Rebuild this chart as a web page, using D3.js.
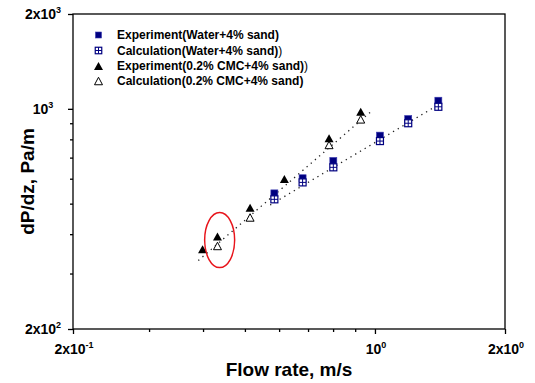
<!DOCTYPE html>
<html><head><meta charset="utf-8">
<script src="https://cdn.jsdelivr.net/npm/d3@7"></script>
<style>
body{margin:0;background:#fff;}
text{font-family:"Liberation Sans",Arial,sans-serif;font-weight:bold;}
</style></head>
<body><svg id="chart" width="535" height="383"></svg>
<script>
// Data
const waterVel     = [0.585, 0.680, 0.801, 1.027, 1.194, 1.402];
const waterExp     = [539, 602, 683, 822, 928, 1061];
const waterCalc    = [516, 584, 652, 790, 900, 1015];
const cmcExpVel    = [0.399, 0.432, 0.514, 0.617, 0.783, 0.927];
const cmcExp       = [358, 393, 485, 599, 806, 979];
const cmcCalcVel   = [0.432, 0.514, 0.783, 0.927];
const cmcCalc      = [367, 452, 768, 926];
const waterFitX    = [0.572, 1.437];
const waterFitY    = [495, 1051];
const cmcFitX      = [0.390, 0.975];
const cmcFitY      = [330, 975];
const xMajor = [0.2, 1, 2];
const xMajorLabels = [["2x10","-1"],["10","0"],["2x10","0"]];
const xMinor = [0.3,0.4,0.5,0.6,0.7,0.8,0.9];
const yMajor = [200, 1000, 2000];
const yMajorLabels = [["2x10","2"],["10","3"],["2x10","3"]];
const yMinor = [300,400,500,600,700,800,900];
const legendLabels = [
  ["Experiment(Water+4% sand)", ""],
  ["Calculation(Water+4% sand)", ")"],
  ["Experiment(0.2% CMC+4% sand)", ")"],
  ["Calculation(0.2% CMC+4% sand)", ""]
];
const xTitle = "Flow rate, m/s";
const yTitle = "dP/dz, Pa/m";

const svg = d3.select("#chart");
const L = 73, R = 505, T = 14, B = 329;
const x = d3.scaleLog().domain([0.2, 2]).range([L, R]);
const y = d3.scaleLog().domain([200, 2000]).range([B, T]);
const navy = "#000080";

// Frame
svg.append("rect").attr("x", L).attr("y", T).attr("width", R-L).attr("height", B-T)
  .attr("fill", "none").attr("stroke", "#000").attr("stroke-width", 1.3);

// Axes
function styleAxis(g){ g.select(".domain").remove(); g.selectAll("line").attr("stroke","#000").attr("stroke-width",1.3); g.selectAll("text").remove(); }
svg.append("g").attr("transform", `translate(0,${B})`)
  .call(d3.axisBottom(x).tickValues(xMajor).tickSize(5).tickFormat("")).call(styleAxis);
svg.append("g").attr("transform", `translate(0,${B})`)
  .call(d3.axisBottom(x).tickValues(xMinor).tickSize(3).tickFormat("")).call(styleAxis);
svg.append("g").attr("transform", `translate(${L},0)`)
  .call(d3.axisLeft(y).tickValues(yMajor).tickSize(5).tickFormat("")).call(styleAxis);
svg.append("g").attr("transform", `translate(${L},0)`)
  .call(d3.axisLeft(y).tickValues(yMinor).tickSize(3).tickFormat("")).call(styleAxis);

function supLabel(xp, yp, parts){
  const t = svg.append("text").attr("x", xp).attr("y", yp).attr("text-anchor","middle")
    .attr("font-size", 14).attr("fill","#000");
  t.append("tspan").text(parts[0]);
  t.append("tspan").attr("dy", -6).attr("font-size", 9).text(parts[1]);
}
xMajor.forEach((v,i)=> supLabel(x(v)+1, B+25, xMajorLabels[i]));
yMajor.forEach((v,i)=> supLabel(43, y(v)+5, yMajorLabels[i]));

// Titles
svg.append("text").attr("x", (L+R)/2).attr("y", 376).attr("text-anchor","middle")
  .attr("font-size", 19).text(xTitle);
svg.append("text").attr("transform", `translate(34,${(T+B)/2+10}) rotate(-90)`)
  .attr("text-anchor","middle").attr("font-size", 19).text(yTitle);

// Fit lines
const line = d3.line().x(d=>x(d[0])).y(d=>y(d[1]));
[[waterFitX, waterFitY],[cmcFitX, cmcFitY]].forEach(([xs, ys])=>{
  svg.append("path").datum(xs.map((v,i)=>[v, ys[i]])).attr("d", line)
    .attr("fill","none").attr("stroke","#222").attr("stroke-width",1.3)
    .attr("stroke-dasharray","1.3,4.2");
});

// Markers
function filledSquare(g, cx, cy, s){
  g.append("rect").attr("x", cx-s/2).attr("y", cy-s/2).attr("width", s).attr("height", s)
    .attr("fill", navy).attr("stroke", "#3a3ab0").attr("stroke-width", 0.6);
}
function gridSquare(g, cx, cy, s){
  g.append("rect").attr("x", cx-s/2).attr("y", cy-s/2).attr("width", s).attr("height", s)
    .attr("fill", "#fff").attr("stroke", navy).attr("stroke-width", 1.2);
  g.append("line").attr("x1", cx).attr("x2", cx).attr("y1", cy-s/2).attr("y2", cy+s/2).attr("stroke", navy).attr("stroke-width",1);
  g.append("line").attr("x1", cx-s/2).attr("x2", cx+s/2).attr("y1", cy).attr("y2", cy).attr("stroke", navy).attr("stroke-width",1);
}
function triPath(cx, cy, w, h){
  return `M${cx},${cy-h/2}L${cx+w/2},${cy+h/2}L${cx-w/2},${cy+h/2}Z`;
}
function filledTri(g, cx, cy){ g.append("path").attr("d", triPath(cx, cy, 9, 8)).attr("fill","#000"); }
function openTri(g, cx, cy){ g.append("path").attr("d", triPath(cx, cy, 8, 7.5)).attr("fill","#fff").attr("stroke","#000").attr("stroke-width",1); }

const gm = svg.append("g");
waterVel.forEach((v,i)=> filledSquare(gm, x(v), y(waterExp[i]), 7));
waterVel.forEach((v,i)=> gridSquare(gm, x(v), y(waterCalc[i]), 7));
cmcCalcVel.forEach((v,i)=> openTri(gm, x(v), y(cmcCalc[i])));
cmcExpVel.forEach((v,i)=> filledTri(gm, x(v), y(cmcExp[i])));

// Red ellipse annotation
svg.append("ellipse").attr("cx", x(0.437)).attr("cy", y(383)).attr("rx", 15).attr("ry", 27.5)
  .attr("fill","none").attr("stroke","#e8141b").attr("stroke-width",1.5);

// Legend
const lg = svg.append("g");
const ly = [35, 50.5, 66, 81];
filledSquare(lg, 98.5, ly[0], 6);
gridSquare(lg, 98.5, ly[1], 6.5);
filledTri(lg, 98.5, ly[2]);
openTri(lg, 98.5, ly[3]);
legendLabels.forEach((lab,i)=>{
  const t = lg.append("text").attr("x", 117).attr("y", ly[i]+4).attr("font-size", 12);
  t.append("tspan").text(lab[0]);
  if (lab[1]) t.append("tspan").attr("font-weight","normal").text(lab[1]);
});
</script></body></html>
